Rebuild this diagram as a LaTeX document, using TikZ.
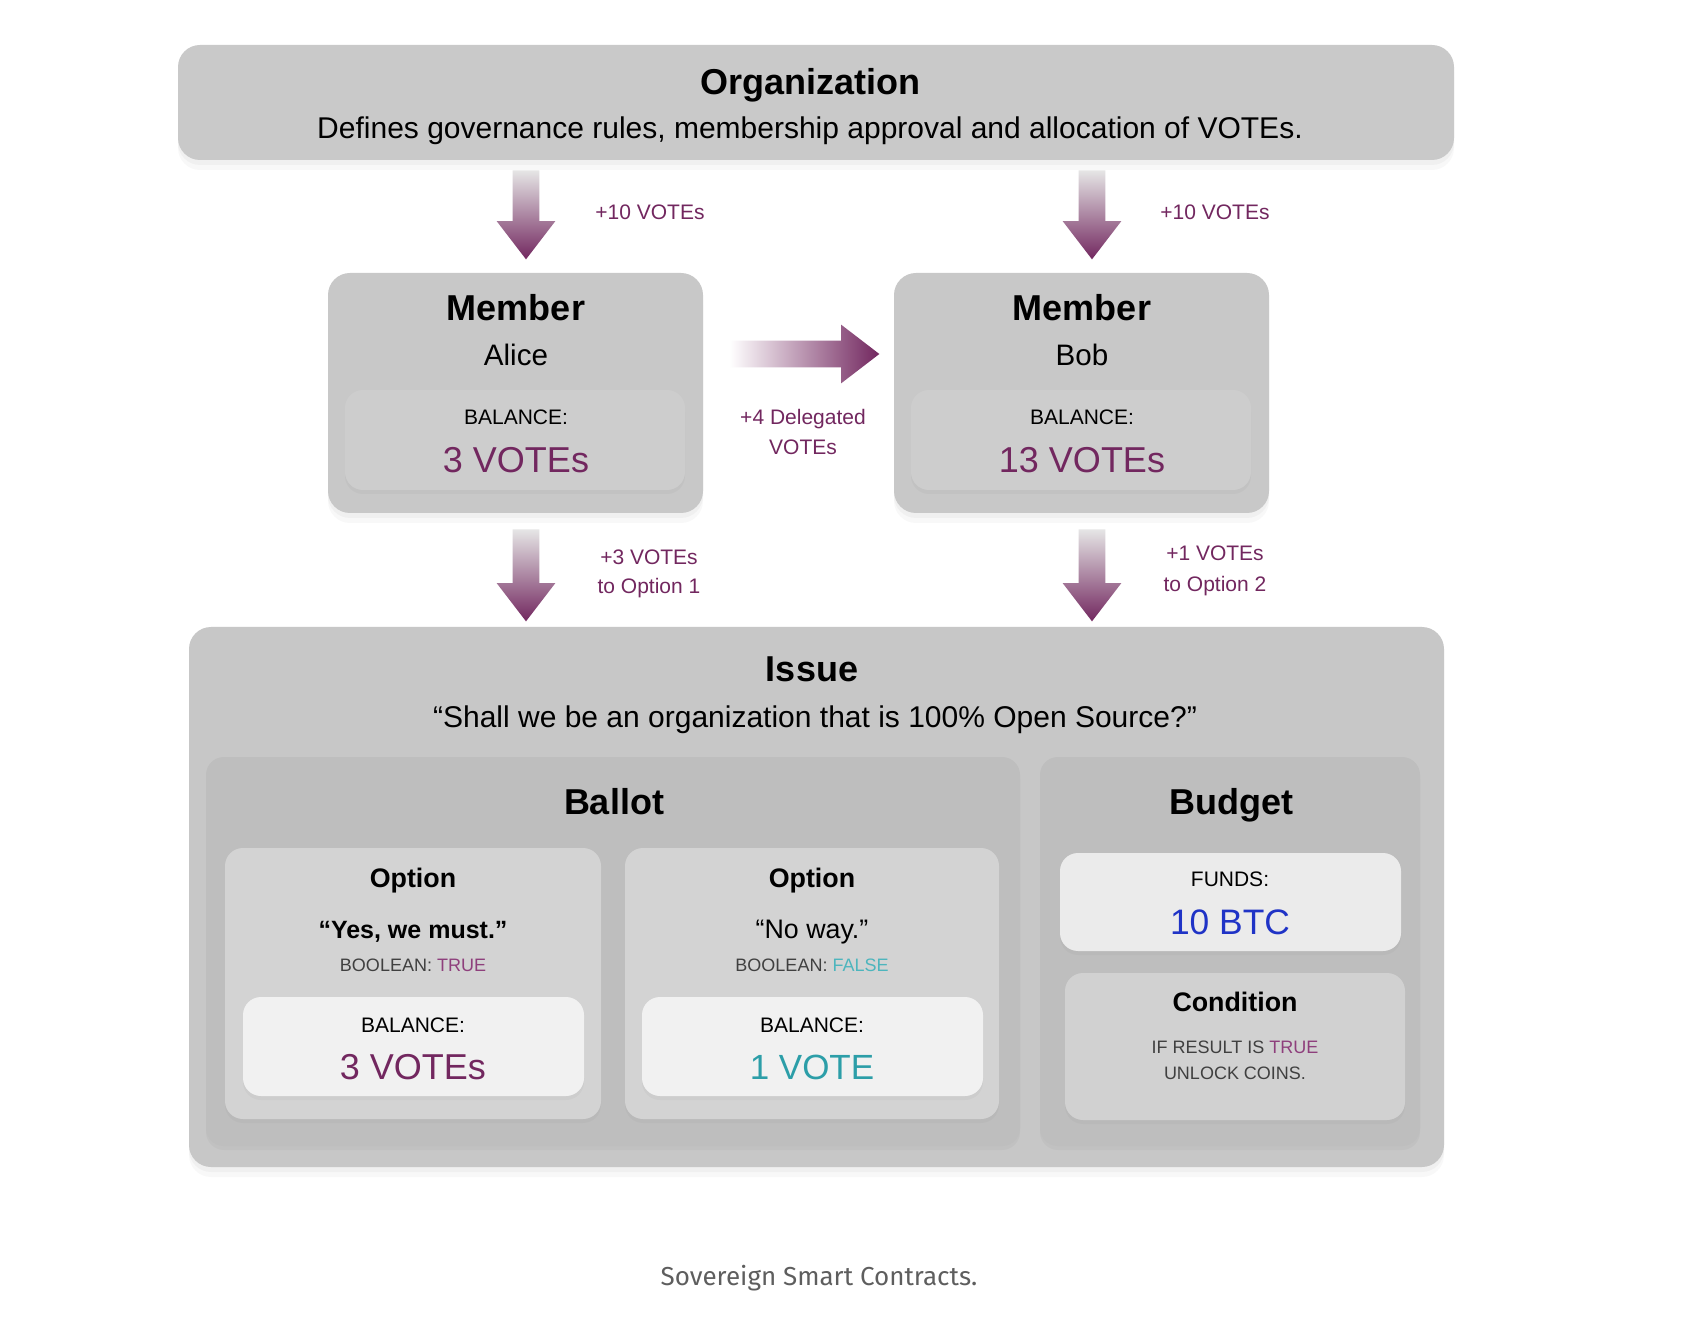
\documentclass[tikz,border=0pt]{standalone}
\usepackage{fontspec}
\setmainfont{Liberation Sans}
\newfontfamily\captionfont{Fira Sans}
\usetikzlibrary{shadows,shapes.arrows}

\definecolor{vpurple}{HTML}{72275F}
\definecolor{lightpurple}{HTML}{8E3F7C}
\definecolor{vteal}{HTML}{2C9EA8}
\definecolor{lightteal}{HTML}{4DB5BD}
\definecolor{btcblue}{HTML}{1F33C6}
\definecolor{orggray}{HTML}{C9C9C9}
\definecolor{membergray}{HTML}{C8C8C8}
\definecolor{insetgray}{HTML}{CDCDCD}
\definecolor{issuegray}{HTML}{C7C7C7}
\definecolor{ballotgray}{HTML}{BEBEBE}
\definecolor{optiongray}{HTML}{D3D3D3}
\definecolor{whitebox}{HTML}{F1F1F1}
\definecolor{captiongray}{HTML}{5E5E5E}

\tikzset{
  softshadow/.style={
    drop shadow={opacity=0.05, shadow xshift=0pt, shadow yshift=-5pt},
    drop shadow={opacity=0.06, shadow xshift=0pt, shadow yshift=-2.5pt}},
  panel/.style={rounded corners=11pt, fill=#1, softshadow},
  inset/.style={rounded corners=9pt, fill=#1,
    drop shadow={opacity=0.07, shadow xshift=0pt, shadow yshift=-2pt}},
  heading/.style={anchor=base, font=\fontsize{18}{20}\selectfont\bfseries},
  subheading/.style={anchor=base, font=\fontsize{13.4}{15}\selectfont\bfseries},
  bodytext/.style={anchor=base, font=\fontsize{14.8}{17}\selectfont},
  tag/.style={anchor=base, font=\fontsize{10.5}{12}\selectfont},
  note/.style={anchor=base, text=vpurple, font=\fontsize{10.5}{12}\selectfont},
  tiny/.style={anchor=base, text=black!75, font=\fontsize{9}{10}\selectfont},
  amount/.style={anchor=base, font=\fontsize{18}{20}\selectfont},
  fatarrow/.style={single arrow, inner sep=6.5pt, minimum width=29pt,
    single arrow head extend=8pt, single arrow tip angle=75, anchor=tip},
  downarrow/.style={fatarrow, shape border rotate=270, minimum height=#1,
    top color=white!90!black, bottom color=vpurple},
  rightarrow/.style={fatarrow, minimum height=#1,
    left color=white, right color=vpurple}
}

\begin{document}
\begin{tikzpicture}[x=0.5pt,y=-0.5pt]
\useasboundingbox[fill=white] (0,0) rectangle (1688,1326);

% organization
\path[panel=orggray] (178,45) rectangle (1454,160);
\node[heading] (orgtitle) at (810,95) {Organization};
\node[bodytext, font=\fontsize{15}{17}\selectfont] (orgtext) at (810,139) {Defines governance rules, membership approval and allocation of VOTEs.};

% allocation
\node[downarrow=44.5pt] (toalice) at (526,260) {};
\node[note] (toalicenote) at (650,220) {+10 VOTEs};
\node[downarrow=44.5pt] (tobob) at (1092,260) {};
\node[note] (tobobnote) at (1215,220) {+10 VOTEs};

% members
\path[panel=membergray] (328,273) rectangle (703,513);
\path[inset=insetgray] (345,390) rectangle (685,490);
\node[heading] (alicetitle) at (516,321) {Member};
\node[bodytext] (alicename) at (516,366) {Alice};
\node[tag] (alicebal) at (516,425) {BALANCE:};
\node[amount, text=vpurple] (alicevotes) at (516,473) {3 VOTEs};

\path[panel=membergray] (894,273) rectangle (1269,513);
\path[inset=insetgray] (911,390) rectangle (1251,490);
\node[heading] (bobtitle) at (1082,321) {Member};
\node[bodytext] (bobname) at (1082,366) {Bob};
\node[tag] (bobbal) at (1082,425) {BALANCE:};
\node[amount, text=vpurple] (bobvotes) at (1082,473) {13 VOTEs};

% delegation
\node[rightarrow=75pt] (delegate) at (880,354) {};
\node[note] (delegatenote) at (803,425) {+4 Delegated};
\node[note] (delegatenote2) at (803,455) {VOTEs};

% votes cast
\node[downarrow=46pt] (aliceopt) at (526,622) {};
\node[note] (aliceoptnote) at (649,565) {+3 VOTEs};
\node[note] (aliceoptnote2) at (649,594) {to Option 1};
\node[downarrow=46pt] (bobopt) at (1092,622) {};
\node[note] (boboptnote) at (1215,561) {+1 VOTEs};
\node[note] (boboptnote2) at (1215,592) {to Option 2};

% issue
\path[panel=issuegray] (189,627) rectangle (1444,1167);
\node[heading] (issuetitle) at (812,682) {Issue};
\node[bodytext, font=\fontsize{15}{17}\selectfont] (issuetext) at (815,727) {“Shall we be an organization that is 100\% Open Source?”};

% ballot
\path[inset=ballotgray] (206,757) rectangle (1020,1146);
\node[heading] (ballottitle) at (614,814) {Ballot};

\path[inset=optiongray] (225,848) rectangle (601,1119);
\node[subheading] (yestitle) at (413,887) {Option};
\node[anchor=base, font=\fontsize{12.5}{14}\selectfont\bfseries] (yestext) at (413,938) {“Yes, we must.”};
\node[tiny] (yesbool) at (413,971) {BOOLEAN: \textcolor{lightpurple}{TRUE}};
\path[inset=whitebox] (243,997) rectangle (584,1096);
\node[tag] (yesbal) at (413,1032) {BALANCE:};
\node[amount, text=vpurple] (yesvotes) at (413,1079) {3 VOTEs};

\path[inset=optiongray] (625,848) rectangle (999,1119);
\node[subheading] (notitle) at (812,887) {Option};
\node[anchor=base, font=\fontsize{13.4}{15}\selectfont] (notext) at (812,938) {“No way.”};
\node[tiny] (nobool) at (812,971) {BOOLEAN: \textcolor{lightteal}{FALSE}};
\path[inset=whitebox] (642,997) rectangle (983,1096);
\node[tag] (nobal) at (812,1032) {BALANCE:};
\node[amount, text=vteal, font=\fontsize{17.5}{20}\selectfont] (novotes) at (812,1079) {1 VOTE};

% budget
\path[inset=ballotgray] (1040,757) rectangle (1420,1146);
\node[heading] (budgettitle) at (1231,814) {Budget};
\path[inset=white!92!black] (1060,853) rectangle (1401,951);
\node[tag] (fundslabel) at (1230,886) {FUNDS:};
\node[amount, text=btcblue, font=\fontsize{17.7}{20}\selectfont] (funds) at (1230,934) {10 BTC};
\path[inset=white!82!black] (1065,973) rectangle (1405,1120);
\node[subheading] (condtitle) at (1235,1011) {Condition};
\node[tiny] (condtext) at (1235,1053) {IF RESULT IS \textcolor{lightpurple}{TRUE}};
\node[tiny] (condtext2) at (1235,1079) {UNLOCK COINS.};

% caption
\node[anchor=base, text=captiongray, font=\captionfont\fontsize{13}{15}\selectfont] (caption) at (819,1285) {Sovereign Smart Contracts.};
\end{tikzpicture}
\end{document}
